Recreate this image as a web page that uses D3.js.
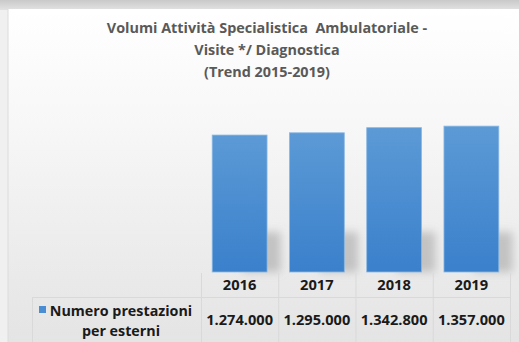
<!DOCTYPE html>
<html><head><meta charset="utf-8">
<script src="https://cdn.jsdelivr.net/npm/d3@7"></script>
<style>html,body{margin:0;padding:0;background:#fff;}svg{display:block;}text{white-space:pre;}</style>
</head><body>
<script>
const categories = ["2016", "2017", "2018", "2019"];
const values = [1274000, 1295000, 1342800, 1357000];
const valueLabels = ["1.274.000", "1.295.000", "1.342.800", "1.357.000"];
const seriesName = ["Numero prestazioni", "per esterni"];
const titleLines = ["Volumi Attività Specialistica  Ambulatoriale -", "Visite */ Diagnostica", "(Trend 2015-2019)"];

const W = 519, H = 342;
const FONT = "'Open Sans', sans-serif";
const svg = d3.select("body").append("svg").attr("width", W).attr("height", H);
const defs = svg.append("defs");

const bg = defs.append("linearGradient").attr("id","bg").attr("x1",0).attr("y1",0).attr("x2",0).attr("y2",1);
bg.append("stop").attr("offset","0%").attr("stop-color","#ffffff");
bg.append("stop").attr("offset","35%").attr("stop-color","#f7f7f7");
bg.append("stop").attr("offset","100%").attr("stop-color","#e4e4e4");
const topGrad = defs.append("linearGradient").attr("id","topbar").attr("x1",0).attr("y1",0).attr("x2",0).attr("y2",1);
topGrad.append("stop").attr("offset","0%").attr("stop-color","#c9c9c9");
topGrad.append("stop").attr("offset","100%").attr("stop-color","#e2e2e2");
const barG = defs.append("linearGradient").attr("id","barg").attr("x1",0).attr("y1",0).attr("x2",0).attr("y2",1);
barG.append("stop").attr("offset","0%").attr("stop-color","#5c9ad6");
barG.append("stop").attr("offset","100%").attr("stop-color","#3a80cb");
const blur = defs.append("filter").attr("id","shadow").attr("x","-50%").attr("y","-50%").attr("width","200%").attr("height","200%");
blur.append("feGaussianBlur").attr("stdDeviation", 4);

// frame
svg.append("rect").attr("width",W).attr("height",H).attr("fill","#f0f0f0");
svg.append("rect").attr("x",0).attr("y",0).attr("width",W).attr("height",10).attr("fill","url(#topbar)");
svg.append("rect").attr("x",8).attr("y",9).attr("width",W-8).attr("height",H-9).attr("fill","url(#bg)");
svg.append("line").attr("x1",8).attr("x2",8).attr("y1",9).attr("y2",H).attr("stroke","#dcdcdc");

// title
const title = svg.append("text").attr("text-anchor","middle")
  .attr("font-family",FONT).attr("font-weight","bold")
  .attr("font-size",14.4).attr("fill","#595959");
[33, 55, 76.5].forEach((yy,i)=>{
  title.append("tspan").attr("x",267).attr("y",yy).text(titleLines[i]);
});

// scales
const colX0 = 201, colX1 = 510;
const x = d3.scaleBand().domain(categories).range([colX0, colX1]).paddingInner(0.29).paddingOuter(0.145);
const y = d3.scaleLinear().domain([0, 1600000]).range([272, 100]);

// shadows
svg.append("g").attr("filter","url(#shadow)").selectAll("rect").data(categories).join("rect")
  .attr("x", d=>x(d)+x.bandwidth()*0.55)
  .attr("y", 232)
  .attr("width", x.bandwidth()*0.7)
  .attr("height", 40)
  .attr("fill","#9a9a9a").attr("opacity",0.5);

// bars
svg.append("g").selectAll("rect").data(values).join("rect")
  .attr("x",(d,i)=>x(categories[i]))
  .attr("y",d=>y(d))
  .attr("width",x.bandwidth())
  .attr("height",d=>y(0)-y(d))
  .attr("fill","url(#barg)")
  .attr("stroke","#8bb8e4").attr("stroke-width",0.8);

// table
const colEdges = d3.range(categories.length+1).map(i=>colX0 + i*(colX1-colX0)/categories.length);
const tbl = svg.append("g").attr("stroke","#d9d9d9").attr("stroke-width",1);
tbl.selectAll("line.v").data(colEdges).join("line")
  .attr("x1",d=>d+0.5).attr("x2",d=>d+0.5).attr("y1",273).attr("y2",H);
tbl.append("line").attr("x1",32).attr("x2",colX1).attr("y1",297.5).attr("y2",297.5);
tbl.append("line").attr("x1",32.5).attr("x2",32.5).attr("y1",297.5).attr("y2",H);

const cx = i => (colEdges[i]+colEdges[i+1])/2;
svg.append("g").selectAll("text").data(categories).join("text")
  .attr("x",(d,i)=>cx(i)).attr("y",290).attr("text-anchor","middle")
  .attr("font-family",FONT).attr("font-weight","bold").attr("font-size",14.7)
  .attr("fill","#1a1a1a").text(d=>d);
svg.append("g").selectAll("text").data(valueLabels).join("text")
  .attr("x",(d,i)=>cx(i)).attr("y",325).attr("text-anchor","middle")
  .attr("font-family",FONT).attr("font-weight","bold").attr("font-size",14.6)
  .attr("fill","#1a1a1a").text(d=>d);

// legend
svg.append("rect").attr("x",39).attr("y",306).attr("width",7).attr("height",7).attr("fill","#4a8dd3");
const lg = svg.append("text").attr("font-family",FONT).attr("font-weight","bold")
  .attr("font-size",14.3).attr("fill","#1a1a1a").attr("text-anchor","middle");
lg.append("tspan").attr("x",121).attr("y",316).text(seriesName[0]);
lg.append("tspan").attr("x",121).attr("y",336).text(seriesName[1]);
</script>
</body></html>
